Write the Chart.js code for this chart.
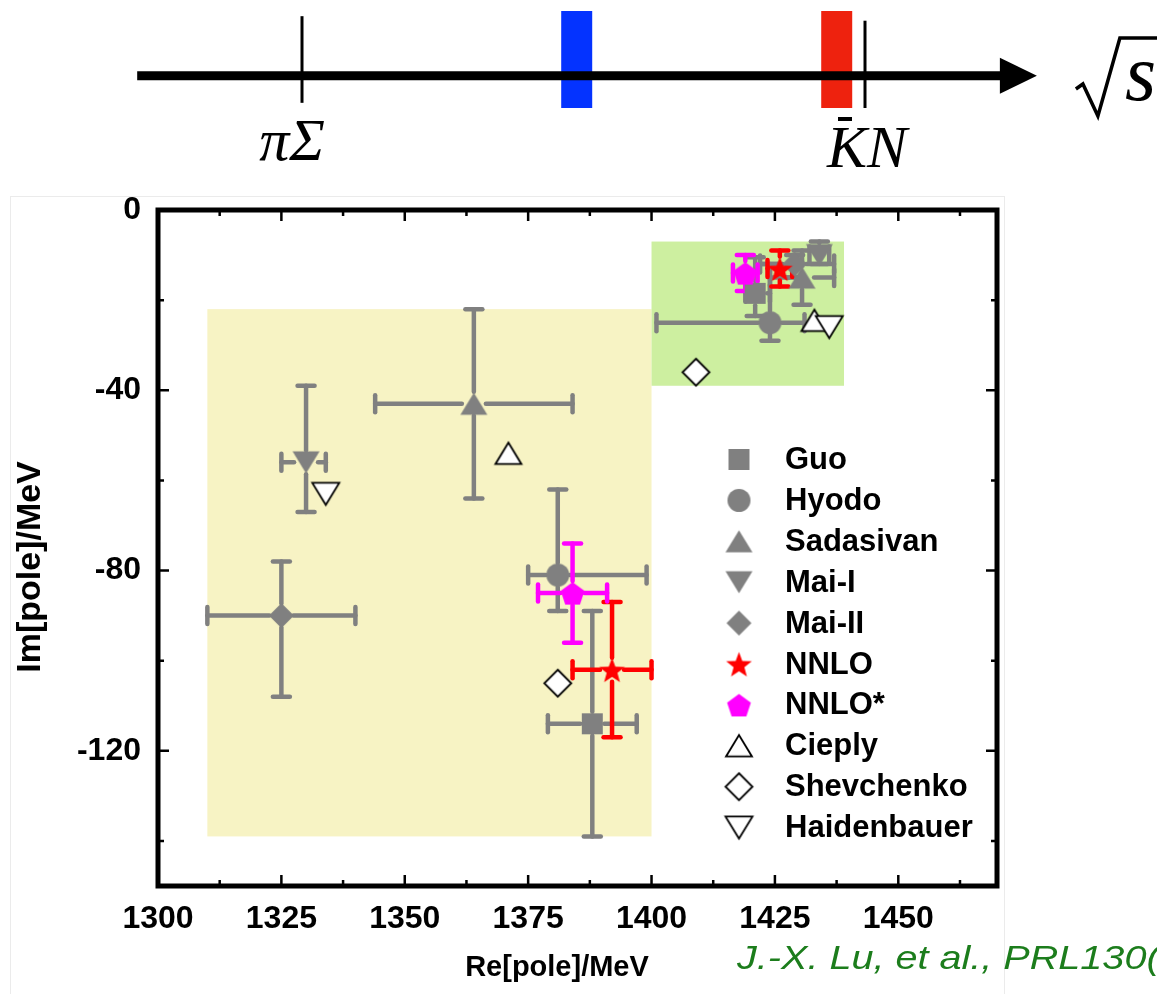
<!DOCTYPE html>
<html>
<head>
<meta charset="utf-8">
<script src="https://cdn.jsdelivr.net/npm/chart.js@4.4.1/dist/chart.umd.min.js"></script>
<style>
  body { margin: 0; background: #fff; width: 1157px; height: 994px; overflow: hidden; position: relative; }
  #top_chart { position: absolute; left: 0; top: 0; }
  #pole_chart { position: absolute; left: 0; top: 185px; }
  #frame { position: absolute; left: 10px; top: 196px; width: 993px; height: 820px; border: 1px solid #ebebeb; }
  #cite { position: absolute; left: 737px; top: 939px; color: #1c7d1c; font: italic 33px "Liberation Sans", Arial, sans-serif; white-space: nowrap; transform: scaleX(1.2); transform-origin: left top; }
</style>
</head>
<body>
<div id="frame"></div>
<canvas id="top_chart" width="1157" height="185"></canvas>
<canvas id="pole_chart" width="1157" height="809"></canvas>
<div id="cite">J.-X. Lu, et al., PRL130(</div>
<script>
// ---- data: Lambda(1405) poles, two per model [lower, higher]
const seriesNames = ["Guo", "Hyodo", "Sadasivan", "Mai-I", "Mai-II", "NNLO", "NNLO*", "Cieply", "Shevchenko", "Haidenbauer"];
const rePole = [
  [1388, 1421], [1381, 1424], [1364, 1430.5], [1330, 1434], [1325, 1429],
  [1392, 1426], [1384, 1419], [1371, 1433], [1381, 1409], [1334, 1436]
];
const imPole = [
  [-114, -18.5], [-81, -25], [-43, -15], [-56, -10], [-90, -12],
  [-102, -13], [-85, -14], [-54, -24.5], [-105, -36], [-63, -26]
];
// Re errors [minus, plus], Im errors [down, up]; null = no error bars
const reErr = [
  [[9, 9], [2, 3]], [[6, 18], [23, 7]], [[20, 20], [6.5, 6.5]], [[5, 4], [2, 2]], [[15, 15], [7, 8]],
  [[8, 8], [2.5, 2.5]], [[7, 7], [2.5, 2.5]], null, null, null
];
const imErr = [
  [[25, 25], [5, 8]], [[8, 19], [4, 13]], [[21, 21], [6, 6]], [[11, 17], [2, 3]], [[18, 12], [3, 2]],
  [[15, 15], [4, 4]], [[11, 11], [4, 4]], null, null, null
];
const xTicks = [1300, 1325, 1350, 1375, 1400, 1425, 1450];
const yTicks = [0, -40, -80, -120];
// shaded regions [reMin, reMax, imMin, imMax]
const lowerRegion = [1310, 1400, -139, -22];
const upperRegion = [1400, 1439, -39, -7];

// ---- data: sqrt(s) sketch
const thresholdNames = ["πΣ", "KN"];
const thresholdMass = [1331.5, 1435];
const poleMass = [1382, 1429.8];
const sqrtsSpan = [1301.2, 1466.6];

const sans = '"Liberation Sans", Arial, sans-serif';
const serif = '"Liberation Serif", "Times New Roman", serif';

function makeMarker(shape, size, fill, stroke, lw = 0) {
  const c = document.createElement("canvas");
  const dim = Math.ceil(size + lw * 2 + 2);
  c.width = dim;
  c.height = dim;
  const g = c.getContext("2d");
  const m = dim / 2, r = size / 2;
  g.beginPath();
  if (shape === "square") {
    g.rect(m - r, m - r, size, size);
  } else if (shape === "circle") {
    g.arc(m, m, r, 0, 2 * Math.PI);
  } else if (shape === "triUp" || shape === "triDown") {
    const h = size * 0.82 / 2;
    const s = shape === "triUp" ? 1 : -1;
    g.moveTo(m, m - s * h);
    g.lineTo(m + r, m + s * h);
    g.lineTo(m - r, m + s * h);
  } else if (shape === "diamond") {
    g.moveTo(m, m - r);
    g.lineTo(m + r, m);
    g.lineTo(m, m + r);
    g.lineTo(m - r, m);
  } else if (shape === "star") {
    for (let k = 0; k < 10; k++) {
      const a = -Math.PI / 2 + k * Math.PI / 5;
      const rr = k % 2 ? r * 0.42 : r;
      g.lineTo(m + rr * Math.cos(a), m + 1.5 + rr * Math.sin(a));
    }
  } else if (shape === "pentagon") {
    for (let k = 0; k < 5; k++) {
      const a = -Math.PI / 2 + k * 2 * Math.PI / 5;
      g.lineTo(m + r * Math.cos(a), m + 1.5 + r * Math.sin(a));
    }
  }
  g.closePath();
  g.fillStyle = fill;
  g.fill();
  if (stroke) {
    g.lineWidth = lw;
    g.strokeStyle = stroke;
    g.stroke();
  }
  return c;
}

const gray = "#808080";
const markers = [
  makeMarker("square", 21, gray),
  makeMarker("circle", 23, gray),
  makeMarker("triUp", 27, gray),
  makeMarker("triDown", 27, gray),
  makeMarker("diamond", 25, gray),
  makeMarker("star", 27, "#ff0000"),
  makeMarker("pentagon", 25, "#ff00ff"),
  makeMarker("triUp", 26, "#ffffff", "#000000", 1.8),
  makeMarker("diamond", 27, "#ffffff", "#000000", 1.8),
  makeMarker("triDown", 27, "#ffffff", "#000000", 1.8),
];
const errColors = [gray, gray, gray, gray, gray, "#ff0000", "#ff00ff"];

const regionsAndErrors = {
  id: "regionsAndErrors",
  beforeDatasetsDraw(chart) {
    const { ctx, scales: { x, y } } = chart;
    ctx.save();
    [[lowerRegion, "#f7f3c4"], [upperRegion, "#cdefa0"]].forEach(([r, col]) => {
      const x0 = x.getPixelForValue(r[0]), x1 = x.getPixelForValue(r[1]);
      const y0 = y.getPixelForValue(r[3]), y1 = y.getPixelForValue(r[2]);
      ctx.fillStyle = col;
      ctx.fillRect(x0, y0, x1 - x0, y1 - y0);
    });

    ctx.lineWidth = 4.5;
    ctx.lineCap = "round";
    const gap = 12, cap = 8.5;
    const seg = (a, b, c, d) => { ctx.beginPath(); ctx.moveTo(a, b); ctx.lineTo(c, d); ctx.stroke(); };
    seriesNames.forEach((name, i) => {
      if (!reErr[i]) return;
      ctx.strokeStyle = errColors[i];
      rePole[i].forEach((re, j) => {
        const im = imPole[i][j];
        const px = x.getPixelForValue(re), py = y.getPixelForValue(im);
        const xl = x.getPixelForValue(re - reErr[i][j][0]);
        const xr = x.getPixelForValue(re + reErr[i][j][1]);
        const yd = y.getPixelForValue(im - imErr[i][j][0]);
        const yu = y.getPixelForValue(im + imErr[i][j][1]);
        if (xl < px - gap) seg(xl, py, px - gap, py);
        if (xr > px + gap) seg(px + gap, py, xr, py);
        if (yu < py - gap) seg(px, yu, px, py - gap);
        if (yd > py + gap) seg(px, py + gap, px, yd);
        seg(xl, py - cap, xl, py + cap);
        seg(xr, py - cap, xr, py + cap);
        seg(px - cap, yu, px + cap, yu);
        seg(px - cap, yd, px + cap, yd);
      });
    });
    ctx.restore();
  },
};

const frameAndLegend = {
  id: "frameAndLegend",
  afterDraw(chart) {
    const { ctx, chartArea: a, scales: { x, y } } = chart;
    ctx.save();
    ctx.strokeStyle = "#000";
    ctx.lineWidth = 2.5;
    ctx.beginPath();
    for (let v = 1312.5; v < 1470; v += 12.5) {
      const px = x.getPixelForValue(v);
      const len = v % 25 === 0 ? 11 : 6;
      ctx.moveTo(px, a.bottom); ctx.lineTo(px, a.bottom - len);
      ctx.moveTo(px, a.top); ctx.lineTo(px, a.top + len);
    }
    for (let v = -20; v > -150; v -= 20) {
      const py = y.getPixelForValue(v);
      const len = v % 40 === 0 ? 11 : 6;
      ctx.moveTo(a.right, py); ctx.lineTo(a.right - len, py);
      ctx.moveTo(a.left, py); ctx.lineTo(a.left + len, py);
    }
    ctx.stroke();
    ctx.lineWidth = 5;
    ctx.lineJoin = "miter";
    ctx.strokeRect(a.left, a.top, a.right - a.left, a.bottom - a.top);

    // legend
    ctx.fillStyle = "#000";
    ctx.font = "bold 31px " + sans;
    ctx.textBaseline = "middle";
    ctx.textAlign = "left";
    seriesNames.forEach((name, i) => {
      const ly = 274.5 + i * 40.9;
      const mk = markers[i];
      ctx.drawImage(mk, 739 - mk.width / 2, ly - mk.height / 2);
      ctx.fillText(name, 785, ly + 1);
    });

    // axis titles
    ctx.textAlign = "center";
    ctx.font = "bold 29px " + sans;
    ctx.fillText("Re[pole]/MeV", 557, 783);
    ctx.font = "bold 34px " + sans;
    ctx.translate(31, 382);
    ctx.rotate(-Math.PI / 2);
    ctx.fillText("Im[pole]/MeV", 0, 0);
    ctx.restore();
  },
};

new Chart(document.getElementById("pole_chart"), {
  type: "scatter",
  data: {
    datasets: seriesNames.map((name, i) => ({
      label: name,
      data: rePole[i].map((re, j) => ({ x: re, y: imPole[i][j] })),
      pointStyle: markers[i],
      order: seriesNames.length - i,
    })),
  },
  options: {
    responsive: false,
    animation: false,
    events: [],
    layout: { padding: { top: 25, right: 160, left: 0, bottom: 0 } },
    plugins: { legend: { display: false }, tooltip: { enabled: false } },
    scales: {
      x: {
        type: "linear",
        min: 1300,
        max: 1470,
        afterFit(s) { s.height = 108; s.paddingLeft = 0; s.paddingRight = 0; },
        afterBuildTicks(s) { s.ticks = xTicks.map((v) => ({ value: v })); },
        grid: { display: false, drawTicks: false },
        border: { display: false },
        ticks: {
          color: "#000", padding: 14, maxRotation: 0, autoSkip: false,
          font: { family: sans, size: 32, weight: "bold" },
          callback: (v) => String(v),
        },
      },
      y: {
        type: "linear",
        min: -150,
        max: 0,
        afterFit(s) { s.width = 158; s.paddingTop = 0; s.paddingBottom = 0; },
        afterBuildTicks(s) { s.ticks = yTicks.map((v) => ({ value: v })); },
        grid: { display: false, drawTicks: false },
        border: { display: false },
        ticks: {
          color: "#000", padding: 17, autoSkip: false,
          font: { family: sans, size: 32, weight: "bold" },
          callback: (v) => String(v),
        },
      },
    },
  },
  plugins: [regionsAndErrors, frameAndLegend],
});

// ---- sqrt(s) sketch
const sketchLabels = {
  id: "sketchLabels",
  afterDatasetsDraw(chart) {
    const { ctx, scales: { x, y } } = chart;
    ctx.save();
    const tip = x.getPixelForValue(sqrtsSpan[1]);
    const y0 = y.getPixelForValue(0);
    ctx.fillStyle = "#000";
    ctx.beginPath();
    ctx.moveTo(tip, y0);
    ctx.lineTo(tip - 37, y0 - 18);
    ctx.lineTo(tip - 37, y0 + 18);
    ctx.closePath();
    ctx.fill();

    ctx.font = "italic 60px " + serif;
    ctx.textAlign = "center";
    ctx.textBaseline = "alphabetic";
    const p0 = x.getPixelForValue(thresholdMass[0]);
    ctx.fillText(thresholdNames[0], p0 - 10, 160);
    const p1 = x.getPixelForValue(thresholdMass[1]);
    ctx.fillText(thresholdNames[1], p1 + 2, 167);
    ctx.lineWidth = 4;
    ctx.beginPath();
    ctx.moveTo(p1 - 27, 119);
    ctx.lineTo(p1 - 13, 119);
    ctx.stroke();

    // sqrt(s)
    ctx.lineWidth = 3.5;
    ctx.lineJoin = "miter";
    ctx.beginPath();
    ctx.moveTo(tip + 39, 89);
    ctx.lineTo(tip + 46, 84);
    ctx.lineTo(tip + 61, 116);
    ctx.lineTo(tip + 83, 38);
    ctx.lineTo(1160, 38);
    ctx.stroke();
    ctx.textAlign = "left";
    ctx.font = "italic 80px " + serif;
    ctx.fillText("s", tip + 88, 100);
    ctx.restore();
  },
};

const vline = (m, lo, hi, color, w) => ({
  data: [{ x: m, y: lo }, { x: m, y: hi }],
  showLine: true,
  borderColor: color,
  borderWidth: w,
  borderCapStyle: "butt",
  pointRadius: 0,
});

new Chart(document.getElementById("top_chart"), {
  type: "scatter",
  data: {
    datasets: [
      {
        data: [{ x: sqrtsSpan[0], y: 0 }, { x: sqrtsSpan[1] - 3, y: 0 }],
        showLine: true,
        borderColor: "#000",
        borderWidth: 9,
        borderCapStyle: "butt",
        pointRadius: 0,
      },
      vline(thresholdMass[0], -0.42, 0.92, "#000", 3),
      vline(thresholdMass[1], -0.5, 0.85, "#000", 3),
      vline(poleMass[0], -0.5, 1, "#0433ff", 31),
      vline(poleMass[1], -0.5, 1, "#ee220e", 31),
    ],
  },
  options: {
    responsive: false,
    animation: false,
    events: [],
    layout: { padding: { top: 11, bottom: 77, left: 0, right: 0 } },
    plugins: { legend: { display: false }, tooltip: { enabled: false } },
    scales: {
      x: { type: "linear", display: false, min: 1275.98, max: 1488.68 },
      y: { type: "linear", display: false, min: -0.5, max: 1 },
    },
  },
  plugins: [sketchLabels],
});
</script>
</body>
</html>
